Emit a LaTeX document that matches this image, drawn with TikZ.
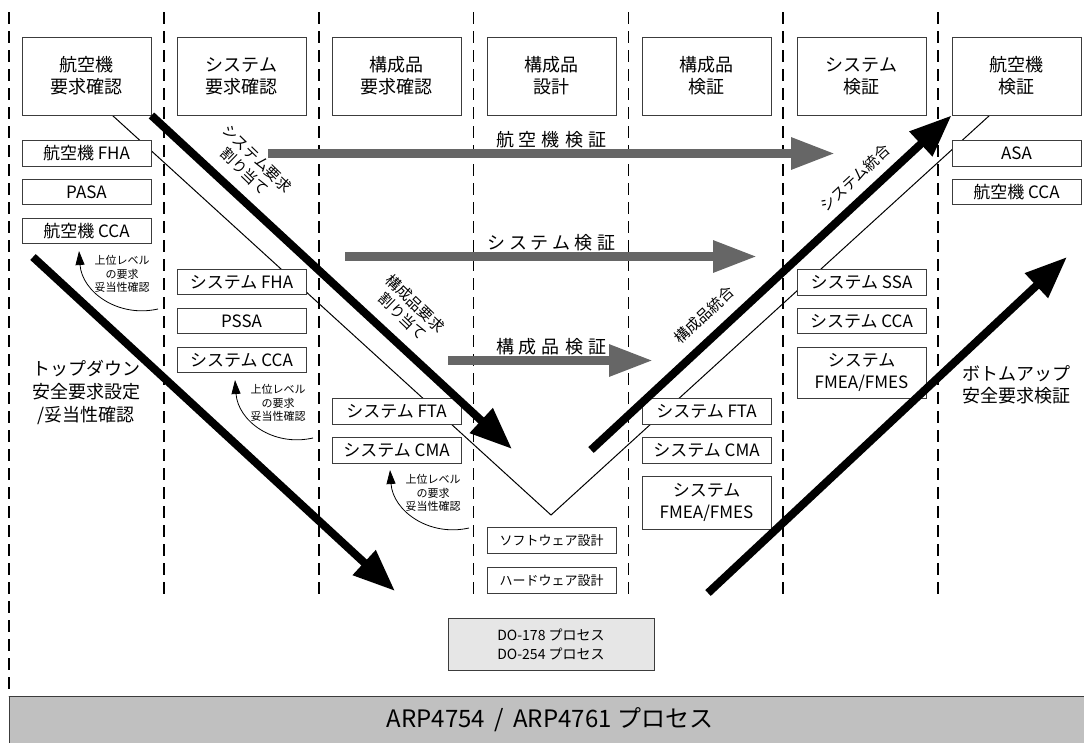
\documentclass[tikz,border=0pt]{standalone}
\usepackage{fontspec}
\setmainfont{Noto Sans CJK JP}
\usetikzlibrary{arrows.meta}
\definecolor{grayarrow}{RGB}{102,102,102}
\definecolor{barfill}{RGB}{192,192,192}
\definecolor{dofill}{RGB}{230,230,230}
\definecolor{edgec}{RGB}{60,60,60}
\newcommand{\myfs}[2]{\fontsize{#1}{#2}\selectfont}
\begin{document}
\begin{tikzpicture}[x=1pt,y=-1pt,
  hdr/.style={draw=edgec, line width=0.9pt, fill=white, minimum width=129pt, minimum height=78pt, align=center, inner sep=0pt, font=\myfs{18}{22}},
  sbox/.style={draw=edgec, line width=0.9pt, fill=white, minimum width=129pt, minimum height=25.5pt, align=center, inner sep=0pt, font=\myfs{17}{22}},
  tbox/.style={sbox, minimum height=51pt},
  dbox/.style={sbox, minimum height=26.5pt, font=\myfs{13}{16}},
  dl/.style={line width=1.4pt, dash pattern=on 12pt off 7pt},
  thinv/.style={line width=1pt},
  gar/.style={line width=9pt, draw=grayarrow, -{Triangle[length=44pt,width=30pt]}},
  bar/.style={line width=8pt, -{Triangle[length=42pt,width=32pt]}},
  glab/.style={font=\myfs{18}{22}},
  rlab/.style={font=\myfs{15}{18}, align=center, inner sep=0pt},
  small/.style={font=\myfs{11}{13.5}, align=center, inner sep=0pt},
  carr/.style={line width=0.8pt, -{Triangle[length=14pt,width=9pt]}},
  side/.style={font=\myfs{18}{23}, align=center, inner sep=0pt}
]
\useasboundingbox (0,0) rectangle (1084,742);

% column separators
\draw[dl] (9,12) -- (9,696);
\foreach \x in {164,319,473.5,628.5,783,938} \draw[dl] (\x,12) -- (\x,594);

% thin V line
\coordinate (vl) at (112,115);
\coordinate (vb) at (551,515);
\coordinate (vr) at (990,115);
\draw[thinv] (vl) -- (vb) -- (vr);

% bottom bar and DO box
\node[draw=edgec, line width=0.9pt, fill=barfill, minimum width=1090pt, minimum height=50pt, anchor=north west, inner sep=0pt] (bar) at (9,696) {};
\node[font=\myfs{24}{28}] (bart) at (550,720) {ARP4754 \,/\, ARP4761 プロセス};
\node[draw=edgec, line width=0.9pt, fill=dofill, minimum width=206pt, minimum height=52pt, align=center, inner sep=0pt, font=\myfs{14}{19}] (do) at (551,644) {DO-178 プロセス\\DO-254 プロセス};

% headers
\node[hdr] (h1) at (86.5,76) {航空機\\要求確認};
\node[hdr] (h2) at (241.5,76) {システム\\要求確認};
\node[hdr] (h3) at (396.5,76) {構成品\\要求確認};
\node[hdr] (h4) at (551.5,76) {構成品\\設計};
\node[hdr] (h5) at (706.5,76) {構成品\\検証};
\node[hdr] (h6) at (861.5,76) {システム\\検証};
\node[hdr] (h7) at (1016.5,76) {航空機\\検証};

% column boxes
\node[sbox] (c1a) at (86.5,153.5) {航空機 FHA};
\node[sbox] (c1b) at (86.5,192) {PASA};
\node[sbox] (c1c) at (86.5,231) {航空機 CCA};
\node[sbox] (c2a) at (241.5,282) {システム FHA};
\node[sbox] (c2b) at (241.5,321) {PSSA};
\node[sbox] (c2c) at (241.5,360) {システム CCA};
\node[sbox] (c3a) at (396.5,411.5) {システム FTA};
\node[sbox] (c3b) at (396.5,450.5) {システム CMA};
\node[dbox] (c4a) at (551.5,540.5) {ソフトウェア設計};
\node[dbox] (c4b) at (551.5,580.5) {ハードウェア設計};
\node[sbox] (c5a) at (706.5,411.5) {システム FTA};
\node[sbox] (c5b) at (706.5,450.5) {システム CMA};
\node[tbox, minimum height=53pt] (c5c) at (706.5,502.5) {システム\\FMEA/FMES};
\node[sbox] (c6a) at (861.5,282.5) {システム SSA};
\node[sbox] (c6b) at (861.5,321) {システム CCA};
\node[tbox] (c6c) at (861.5,372.5) {システム\\FMEA/FMES};
\node[sbox] (c7a) at (1016.5,153.5) {ASA};
\node[sbox] (c7b) at (1016.5,192) {航空機 CCA};

% gray verification arrows
\coordinate (g1s) at (268,153.5); \coordinate (g1e) at (835,153.5);
\coordinate (g2s) at (345,256.5); \coordinate (g2e) at (757,256.5);
\coordinate (g3s) at (448,360.5); \coordinate (g3e) at (653,360.5);
\draw[gar] (g1s) -- (g1e);
\draw[gar] (g2s) -- (g2e);
\draw[gar] (g3s) -- (g3e);
\node[glab] (l1) at (551,140) {航\hspace{5pt}空\hspace{5pt}機\hspace{5pt}検\hspace{5pt}証};
\node[glab] (l2) at (551,243) {シ\hspace{4pt}ス\hspace{4pt}テ\hspace{4pt}ム\hspace{4pt}検\hspace{4pt}証};
\node[glab] (l3) at (551,347) {構\hspace{5pt}成\hspace{5pt}品\hspace{5pt}検\hspace{5pt}証};

% thick black arrows
\coordinate (a1e) at (512,449);
\coordinate (a2s) at (591,450);
\coordinate (a3s) at (33,257); \coordinate (a3e) at (395,591);
\coordinate (a4s) at (708,593); \coordinate (a4e) at (1067,257);
\draw[bar] (h1.south east) -- (a1e);
\draw[bar] (a2s) -- (h7.south west);
\draw[bar] (a3s) -- (a3e);
\draw[bar] (a4s) -- (a4e);
\node[rlab, rotate=-44] (r1) at (251,165) {システム要求\\割り当て};
\node[rlab, rotate=-44] (r2) at (409,310) {構成品要求\\割り当て};
\node[rlab, rotate=43] (r3) at (855,178) {システム統合};
\node[rlab, rotate=43] (r4) at (704,315) {構成品統合};

% upper-level validation curved arrows
\coordinate (k1s) at (158,309); \coordinate (k1e) at (79,251);
\draw[carr] (k1s) .. controls (118,318) and (82,292) .. (k1e);
\node[small] (k1t) at (122,274) {上位レベル\\の要求\\妥当性確認};
\coordinate (k2s) at (313,438); \coordinate (k2e) at (235,380);
\draw[carr] (k2s) .. controls (273,447) and (238,421) .. (k2e);
\node[small] (k2t) at (278,403) {上位レベル\\の要求\\妥当性確認};
\coordinate (k3s) at (469,528); \coordinate (k3e) at (390,470);
\draw[carr] (k3s) .. controls (429,537) and (393,511) .. (k3e);
\node[small] (k3t) at (433,493) {上位レベル\\の要求\\妥当性確認};

% side texts
\node[side] (td) at (86,392) {トップダウン\\安全要求設定\\/妥当性確認};
\node[side, font=\myfs{18}{22}] (bu) at (1016,385) {ボトムアップ\\安全要求検証};
\end{tikzpicture}
\end{document}
